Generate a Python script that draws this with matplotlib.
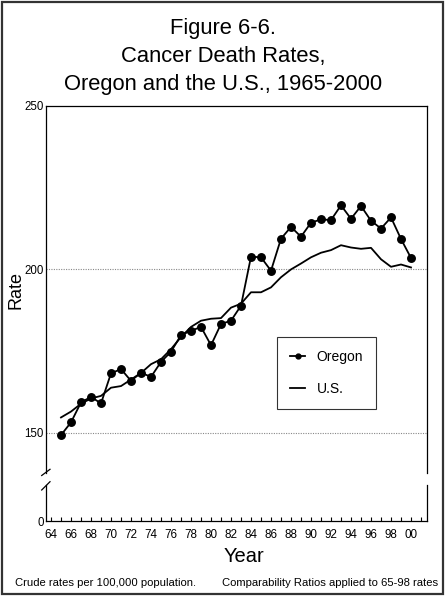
import matplotlib
matplotlib.use("Agg")
import matplotlib.pyplot as plt
from matplotlib.lines import Line2D
from matplotlib.patches import Rectangle

years = list(range(1965, 2001))
oregon = [149.3, 153.2, 159.3, 161.0, 159.0, 168.2, 169.5, 165.9, 168.4, 167.1,
          171.7, 174.8, 179.9, 181.2, 182.4, 176.8, 183.3, 184.3, 188.9, 203.9,
          203.7, 199.6, 209.4, 213.0, 210.0, 214.3, 215.3, 215.1, 219.6, 215.5,
          219.4, 214.9, 212.5, 215.9, 209.3, 203.5]
us = [154.7, 156.5, 158.9, 160.5, 161.3, 163.8, 164.3, 166.3, 168.3, 171.0,
      172.5, 175.6, 179.3, 182.4, 184.3, 184.9, 185.1, 188.3, 189.5, 193.0,
      193.0, 194.5, 197.6, 200.0, 201.8, 203.7, 205.1, 205.9, 207.4, 206.7,
      206.3, 206.6, 203.1, 200.8, 201.5, 200.6]
xtick_years = list(range(1964, 2001, 2))
xtick_labels = ["%02d" % (y % 100) for y in xtick_years]
ytick_vals = [150, 200, 250]
title_lines = ["Figure 6-6.", "Cancer Death Rates,", "Oregon and the U.S., 1965-2000"]

plt.rcParams['font.family'] = ['Liberation Sans', 'DejaVu Sans']

W, H = 445, 596
fig = plt.figure(figsize=(W / 100, H / 100), dpi=100)

def fx(px):
    return px / W

def fy(py):
    return 1 - py / H

xmin, xmax = 1963.5, 2001.55
lw_sp = 0.9

# main axes
ax = fig.add_axes([fx(46), fy(473), fx(426.5) - fx(46), fy(106) - fy(473)])
ax.set_xlim(xmin, xmax)
ax.set_ylim(137.7, 250)
for v in [150, 200]:
    ax.axhline(v, color='#888888', lw=0.8, ls=(0, (1, 1.2)), zorder=1)
l1, = ax.plot(years, oregon, color='black', lw=1.3, marker='o', ms=5.4, zorder=3, label='Oregon')
l2, = ax.plot(years, us, color='black', lw=1.3, zorder=2, label='U.S.')
ax.set_yticks(ytick_vals)
ax.set_yticklabels([str(v) for v in ytick_vals], fontsize=8.3)
ax.tick_params(axis='y', length=0, pad=1.5)
ax.set_xticks([])
ax.spines['bottom'].set_visible(False)
for s in ['top', 'left', 'right']:
    ax.spines[s].set_linewidth(lw_sp)

# bottom axes (0 region)
ax2 = fig.add_axes([fx(46), fy(521), fx(426.5) - fx(46), fy(485) - fy(521)])
ax2.set_xlim(xmin, xmax)
ax2.set_ylim(0, 10)
ax2.set_yticks([0])
ax2.set_yticklabels(['0'], fontsize=8.3)
ax2.tick_params(axis='y', length=0, pad=1.5)
ax2.set_xticks(xtick_years)
ax2.set_xticklabels(xtick_labels, fontsize=8.4)
ax2.set_xticks(range(1964, 2002), minor=True)
ax2.tick_params(axis='x', which='both', direction='in', length=3.2, width=0.8, pad=6)
ax2.spines['top'].set_visible(False)
for s in ['bottom', 'left', 'right']:
    ax2.spines[s].set_linewidth(lw_sp)

# break marks
for (x0, y0, x1, y1) in [(41.7, 475.5, 50, 469.3), (41.7, 490, 50, 481.7)]:
    fig.add_artist(Line2D([fx(x0), fx(x1)], [fy(y0), fy(y1)], color='black', lw=0.9,
                          transform=fig.transFigure))

# legend
leg = ax.legend(handles=[l1, l2], loc='upper left',
                bbox_to_anchor=(fx(277), fy(337)), bbox_transform=fig.transFigure,
                fontsize=10, frameon=True, fancybox=False, borderpad=0.95,
                labelspacing=1.25, handlelength=1.1, handletextpad=0.8,
                markerscale=0.65, borderaxespad=0)
leg.get_frame().set_edgecolor('black')
leg.get_frame().set_linewidth(0.8)

# titles
ty = [27, 55, 83]
for t, y in zip(title_lines, ty):
    fig.text(fx(223), fy(y + 1.5), t, ha='center', va='center', fontsize=15.8)

fig.text(fx(16.5), fy(290), 'Rate', rotation=90, ha='center', va='center', fontsize=13)
fig.text(fx(244), fy(561.5), 'Year', ha='center', va='baseline', fontsize=14.5)
fig.text(fx(15), fy(583), 'Crude rates per 100,000 population.', ha='left', va='center', fontsize=8.1)
fig.text(fx(222), fy(583), 'Comparability Ratios applied to 65-98 rates', ha='left', va='center', fontsize=8.1)

# outer border
fig.add_artist(Rectangle((fx(1.5), fy(593.5)), fx(442.5) - fx(1.5), fy(1.5) - fy(593.5),
                         fill=False, edgecolor='#333333', lw=1.6, transform=fig.transFigure))

fig.savefig('out.png', dpi=100)
